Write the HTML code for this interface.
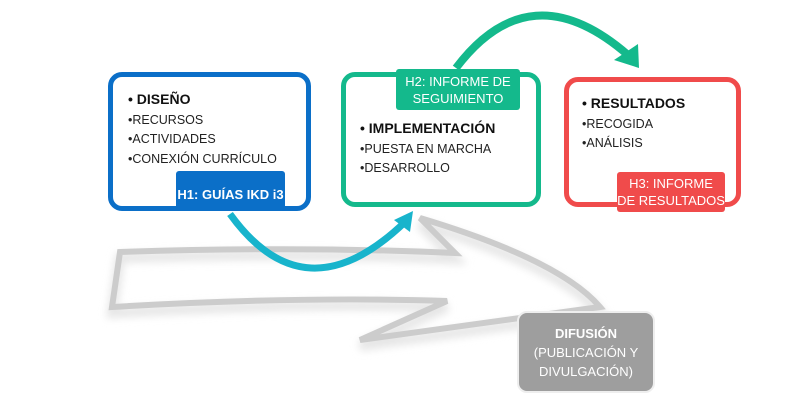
<!DOCTYPE html>
<html><head><meta charset="utf-8"><style>
body{margin:0;width:800px;height:400px;background:#fff;overflow:hidden;position:relative;font-family:"Liberation Sans",sans-serif}
svg{position:absolute;left:0;top:0}
.box{position:absolute;background:#fff;border-radius:14px;box-sizing:border-box}
.t{position:absolute;font-size:12.5px;color:#222;line-height:19.5px;white-space:nowrap}
.t b{font-size:14px;color:#111}
.lbl{position:absolute;color:#fff;font-size:13px;text-align:center;line-height:17px;box-sizing:border-box;display:flex;align-items:center;justify-content:center}
</style></head><body>
<svg width="800" height="400">
<defs><filter id="sh" x="-20%" y="-20%" width="140%" height="160%"><feGaussianBlur stdDeviation="4"/></filter></defs>
<path d="M120,252 Q300,246 455,253 L420,218 Q560,260 600,307 L360,340 L447,301 Q300,296 112,307 Z" fill="none" stroke="#e6e6e6" stroke-width="10" filter="url(#sh)" transform="translate(0,6)"/>
<path d="M120,252 Q300,246 455,253 L420,218 Q560,260 600,307 L360,340 L447,301 Q300,296 112,307 Z" fill="none" stroke="#cccccc" stroke-width="6" stroke-linejoin="miter"/>
<path d="M456,68 Q530,-30 628,55" fill="none" stroke="#14b98c" stroke-width="8"/>
<polygon points="639,68 614,60 638,44" fill="#14b98c"/>
<path d="M230,214 Q305,318 405,222" fill="none" stroke="#18b4cc" stroke-width="7"/>
<polygon points="413,211 394,220 410,232" fill="#18b4cc"/>
</svg>
<div class="box" style="left:108px;top:72px;width:203px;height:139px;border:5px solid #0b6fc8"></div>
<div class="t" style="left:128px;top:90px"><b>• DISEÑO</b><br>•RECURSOS<br>•ACTIVIDADES<br>•CONEXIÓN CURRÍCULO</div>
<div class="lbl" style="left:176px;top:171px;width:109px;height:40px;background:#0b6fc8;border-radius:3px;font-weight:bold;padding-top:6px">H1: GUÍAS IKD i3</div>
<div class="box" style="left:341px;top:72px;width:200px;height:135px;border:5px solid #14b98c"></div>
<div class="lbl" style="left:396px;top:69px;width:124px;height:41px;background:#14b98c;border-radius:3px">H2: INFORME DE<br>SEGUIMIENTO</div>
<div class="t" style="left:360px;top:119px"><b>• IMPLEMENTACIÓN</b><br>•PUESTA EN MARCHA<br>•DESARROLLO</div>
<div class="box" style="left:564px;top:77px;width:177px;height:130px;border:5px solid #f04b4b"></div>
<div class="t" style="left:582px;top:94px"><b>• RESULTADOS</b><br>•RECOGIDA<br>•ANÁLISIS</div>
<div class="lbl" style="left:617px;top:172px;width:108px;height:40px;background:#f04b4b;border-radius:3px">H3: INFORME<br>DE RESULTADOS</div>
<div class="lbl" style="left:517px;top:311px;width:138px;height:82px;background:#9e9e9e;border-radius:10px;flex-direction:column;line-height:19px;border:2px solid #eee"><b>DIFUSIÓN</b>(PUBLICACIÓN Y<br>DIVULGACIÓN)</div>
</body></html>
